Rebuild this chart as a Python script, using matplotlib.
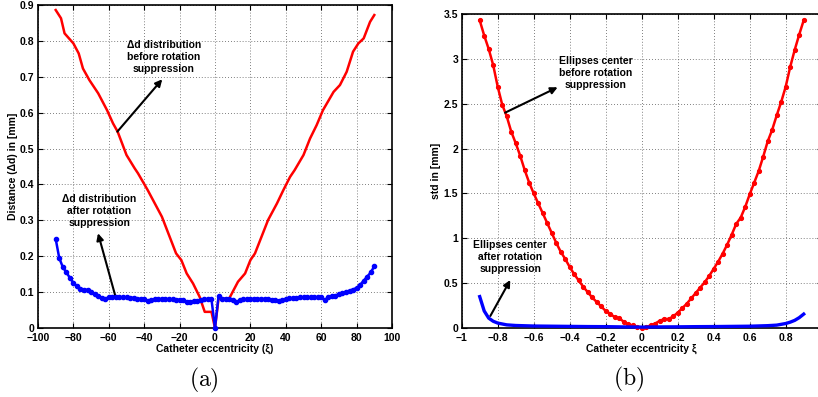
import matplotlib
matplotlib.use("Agg")
import matplotlib.pyplot as plt
import numpy as np

plt.rcParams['font.family'] = ['Liberation Sans', 'DejaVu Sans']
plt.rcParams['font.weight'] = 'bold'
plt.rcParams['mathtext.fontset'] = 'cm'

# ---- panel (a): distance vs eccentricity (percent) ----
a_blue_x = list(range(-90, 92, 2))
a_blue_y = [0.248, 0.195, 0.170, 0.155, 0.140, 0.126, 0.116, 0.110, 0.107, 0.106,
            0.100, 0.095, 0.089, 0.084, 0.081, 0.086, 0.087, 0.086, 0.087, 0.085,
            0.085, 0.084, 0.084, 0.082, 0.081, 0.082, 0.074, 0.079, 0.080, 0.080,
            0.081, 0.081, 0.080, 0.080, 0.079, 0.079, 0.078, 0.073, 0.072, 0.074,
            0.076, 0.079, 0.081, 0.080, 0.080, 0.000, 0.089, 0.082, 0.081, 0.080,
            0.077, 0.073, 0.077, 0.080, 0.080, 0.081, 0.081, 0.081, 0.081, 0.081,
            0.080, 0.079, 0.078, 0.076, 0.077, 0.080, 0.083, 0.083, 0.084, 0.086,
            0.085, 0.085, 0.086, 0.086, 0.085, 0.086, 0.078, 0.085, 0.088, 0.090,
            0.095, 0.098, 0.101, 0.104, 0.107, 0.112, 0.120, 0.132, 0.143, 0.155,
            0.172]

a_red_x = [-90, -87, -85, -80, -77, -74.6, -71, -66, -61, -57.6, -55, -50, -45.4,
           -43.5, -38, -30, -22, -19, -16, -12.4, -8.7, -5.8, -2, 0, 2, 8, 13, 17,
           20, 22.6, 30, 35, 38.6, 42.4, 45, 50, 53.7, 57.4, 61, 67, 70.6, 74.4,
           78, 81, 84, 87.6, 90]
a_red_y = [0.886, 0.863, 0.821, 0.793, 0.765, 0.723, 0.691, 0.654, 0.607, 0.570,
           0.547, 0.482, 0.445, 0.431, 0.384, 0.310, 0.208, 0.189, 0.152, 0.124,
           0.087, 0.045, 0.045, 0.000, 0.082, 0.082, 0.129, 0.152, 0.189, 0.208,
           0.301, 0.347, 0.384, 0.421, 0.440, 0.482, 0.528, 0.565, 0.607, 0.658,
           0.677, 0.714, 0.770, 0.793, 0.807, 0.853, 0.872]

# ---- panel (b): std of ellipse centre vs eccentricity ----
b_red_x = np.round(np.arange(-0.9, 0.9001, 0.025), 3)
b_red_y = [3.43, 3.26, 3.11, 2.93, 2.69, 2.49, 2.36, 2.19, 2.06, 1.92,
           1.76, 1.62, 1.50, 1.39, 1.28, 1.17, 1.06, 0.95, 0.85, 0.77,
           0.68, 0.60, 0.53, 0.46, 0.40, 0.34, 0.29, 0.24, 0.19, 0.16,
           0.12, 0.11, 0.07, 0.04, 0.03, 0.01, 0.00, 0.01, 0.03, 0.05,
           0.08, 0.10, 0.10, 0.13, 0.17, 0.22, 0.27, 0.33, 0.39, 0.45,
           0.51, 0.58, 0.66, 0.74, 0.83, 0.93, 1.04, 1.16, 1.23, 1.35,
           1.49, 1.62, 1.75, 1.91, 2.08, 2.21, 2.37, 2.52, 2.69, 2.91,
           3.10, 3.27, 3.43]

b_blue_x = [-0.9, -0.875, -0.85, -0.825, -0.8, -0.75, -0.7, -0.6, -0.5, -0.4, -0.3,
            -0.2, -0.1, 0.0, 0.1, 0.2, 0.3, 0.4, 0.5, 0.6, 0.7, 0.75, 0.8, 0.825,
            0.85, 0.875, 0.9]
b_blue_y = [0.35, 0.19, 0.11, 0.075, 0.055, 0.035, 0.028, 0.022, 0.020, 0.018, 0.016,
            0.015, 0.012, 0.010, 0.012, 0.013, 0.015, 0.016, 0.018, 0.020, 0.026,
            0.032, 0.050, 0.065, 0.085, 0.115, 0.155]

a_xticks = list(range(-100, 101, 20))
a_yticks = [0, 0.1, 0.2, 0.3, 0.4, 0.5, 0.6, 0.7, 0.8, 0.9]
b_xticks = [-1, -0.8, -0.6, -0.4, -0.2, 0, 0.2, 0.4, 0.6, 0.8]
b_yticks = [0, 0.5, 1, 1.5, 2, 2.5, 3, 3.5]

FS = 7.5
W, H = 818, 397
fig = plt.figure(figsize=(W / 100, H / 100), dpi=100)

def px_axes(l, t, r, b):
    return fig.add_axes([l / W, 1 - b / H, (r - l) / W, (b - t) / H])

def style(ax):
    ax.grid(True, linestyle=(0, (1, 2.5)), color='#555555', linewidth=0.6)
    ax.set_axisbelow(True)
    ax.tick_params(direction='in', top=True, right=True, length=3.5, width=0.8,
                   labelsize=FS)
    ax.tick_params(axis='x', pad=3.5)
    ax.tick_params(axis='y', pad=2.5)
    for s in ax.spines.values():
        s.set_linewidth(1.2)
    for lab in ax.get_xticklabels() + ax.get_yticklabels():
        lab.set_fontweight('bold')

def tick_fmt(v):
    return ('%g' % v).replace('-', '\u2212')

ARROW = dict(arrowstyle='-|>', color='black', lw=1.5,
             mutation_scale=10, shrinkA=0, shrinkB=0)

# Panel (a)
ax1 = px_axes(38, 5, 392, 328)
ax1.plot(a_red_x, a_red_y, color='#ff0000', lw=1.8, clip_on=False, zorder=3)
ax1.plot(a_blue_x, a_blue_y, color='#0000ff', lw=1.8, marker='.', ms=6,
         clip_on=False, zorder=4)
ax1.set_xlim(-100, 100)
ax1.set_ylim(0, 0.9)
ax1.set_xticks(a_xticks)
ax1.set_xticklabels([tick_fmt(v) for v in a_xticks])
ax1.set_yticks(a_yticks)
ax1.set_yticklabels([tick_fmt(v) for v in a_yticks])
style(ax1)
ax1.set_xlabel('Catheter eccentricity (\u03be)', fontsize=FS, fontweight='bold', labelpad=0.5)
ax1.set_ylabel('Distance (\u0394d) in [mm]', fontsize=FS, fontweight='bold', labelpad=1.5)
ax1.annotate('', xy=(-29.8, 0.693), xytext=(-55.2, 0.547), arrowprops=ARROW)
ax1.text(-29, 0.755, '\u0394d distribution\nbefore rotation\nsuppression',
         ha='center', va='center', fontsize=FS, fontweight='bold', linespacing=1.25)
ax1.annotate('', xy=(-66.1, 0.264), xytext=(-56.3, 0.089), arrowprops=ARROW)
ax1.text(-65.5, 0.325, '\u0394d distribution\nafter rotation\nsuppression',
         ha='center', va='center', fontsize=FS, fontweight='bold', linespacing=1.25)

# Panel (b)
ax2 = px_axes(461.7, 14, 821.7, 328)
ax2.plot(b_red_x, b_red_y, color='#ff0000', lw=1.8, marker='.', ms=5.5,
         clip_on=False, zorder=3)
ax2.plot(b_blue_x, b_blue_y, color='#0000ff', lw=2.4, clip_on=False, zorder=4)
ax2.set_xlim(-1, 1)
ax2.set_ylim(0, 3.5)
ax2.set_xticks(b_xticks)
ax2.set_xticklabels([tick_fmt(v) for v in b_xticks])
ax2.set_yticks(b_yticks)
ax2.set_yticklabels([tick_fmt(v) for v in b_yticks])
style(ax2)
ax2.set_xlabel('Catheter eccentricity \u03be', fontsize=FS, fontweight='bold', labelpad=0.5)
ax2.set_ylabel('std in [mm]', fontsize=FS, fontweight='bold', labelpad=2)
ax2.annotate('', xy=(-0.467, 2.683), xytext=(-0.759, 2.40), arrowprops=ARROW)
ax2.text(-0.256, 2.84, 'Ellipses center\nbefore rotation\nsuppression',
         ha='center', va='center', fontsize=FS, fontweight='bold', linespacing=1.25)
ax2.annotate('', xy=(-0.73, 0.535), xytext=(-0.841, 0.134), arrowprops=ARROW)
ax2.text(-0.73, 0.79, 'Ellipses center\nafter rotation\nsuppression',
         ha='center', va='center', fontsize=FS, fontweight='bold', linespacing=1.25)

# Sub-figure captions
fig.text(204 / W, 1 - 380 / H, r'$\mathrm{(a)}$', ha='center', va='center', fontsize=17)
fig.text(629 / W, 1 - 379 / H, r'$\mathrm{(b)}$', ha='center', va='center', fontsize=17)

fig.savefig('out.png', dpi=100)
